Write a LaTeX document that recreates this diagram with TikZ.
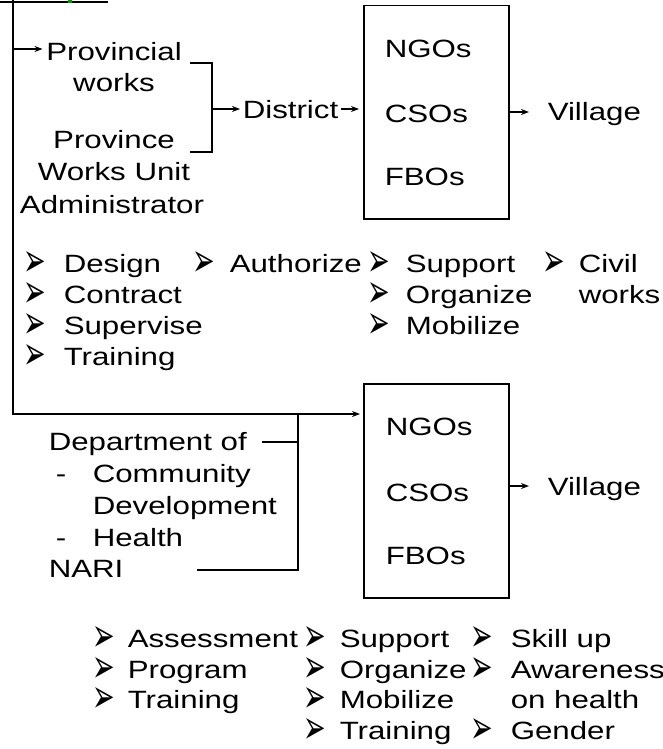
\documentclass[tikz,border=0pt]{standalone}
\usepackage{fontspec}
\usepackage{graphicx}
\setmainfont{Liberation Sans}[FakeStretch=1.25]
\newfontfamily\dejavu{DejaVu Sans}
\usetikzlibrary{arrows.meta}
\newcommand\bulglyph{\scalebox{0.75}[1.3]{\dejavu\fontsize{36}{36}\selectfont ➢}}
\newcommand\bitem[5]{%
  \node[bul] (#1b) at (#2,#4) {\bulglyph};
  \node[txt] (#1) at (#3,#4) {#5};}
\begin{document}
\begin{tikzpicture}[x=1pt,y=-1pt, line width=1.5pt,
  txt/.style={inner sep=0pt, anchor=base west, font=\fontsize{25}{30}\selectfont},
  ctxt/.style={inner sep=0pt, anchor=base, font=\fontsize{25}{30}\selectfont},
  bul/.style={inner sep=0pt, anchor=base west, yshift=-4pt},
  box/.style={draw, anchor=north west, inner sep=0pt},
  arr/.style={-{Stealth[length=8pt,width=6pt]}, line width=1.3pt}]
\useasboundingbox (0,0) rectangle (663,749);

% top-left lines
\coordinate (t0) at (0,2);
\coordinate (t1) at (108,2);
\coordinate (v0) at (13,0);
\coordinate (v1) at (13,414);
\draw (t0) -- (t1);
\fill[green!60!black] (68,0) rectangle (72,3);

% provincial group
\node[ctxt] (prov) at (114,61) {Provincial};
\node[ctxt] (works) at (114,92) {works};
\node[ctxt] (province) at (114,148) {Province};
\node[ctxt] (wu) at (114,180) {Works Unit};
\node[ctxt] (admin) at (112,213) {Administrator};
\coordinate (pa) at (13,49);
\draw[arr] (pa) -- ([xshift=-3pt]pa -| prov.west);

% bracket
\coordinate (br1) at (190,63);
\coordinate (br2) at (212,63);
\coordinate (br3) at (212,152);
\coordinate (br4) at (190,152);
\coordinate (brm) at (212,109);
\draw (br1) -- (br2) -- (br3) -- (br4);

\node[txt] (district) at (242,118) {District};
\draw[arr] (brm) -- ([xshift=-2pt]brm -| district.west);

% box 1
\node[box, minimum width=145pt, minimum height=213pt] (box1) at (363,5) {};
\node[txt] (ngo1) at (384,58) {NGOs};
\node[txt] (cso1) at (384,122) {CSOs};
\node[txt] (fbo1) at (384,185) {FBOs};
\draw[arr] ([xshift=2pt]brm -| district.east) -- ([xshift=-4pt]brm -| box1.west);
\node[txt] (vil1) at (547,121) {Village};
\coordinate (va1) at (508,112);
\draw[arr] (va1) -- ([xshift=-18pt]va1 -| vil1.west);

% top bullet lists
\bitem{design}{23}{63}{272}{Design}
\bitem{contract}{23}{63}{303}{Contract}
\bitem{supervise}{23}{63}{334}{Supervise}
\bitem{training1}{23}{63}{365}{Training}
\bitem{authorize}{192}{229}{272}{Authorize}
\bitem{support1}{367}{405}{272}{Support}
\bitem{organize1}{367}{405}{303}{Organize}
\bitem{mobilize1}{367}{405}{334}{Mobilize}
\bitem{civil}{542}{578}{272}{Civil}
\node[txt] (civilworks) at (578,303) {works};

% long line and arrow to box 2
\node[box, minimum width=145pt, minimum height=214pt] (box2) at (363,383) {};
\draw[arr] (v0) -- (v1) -- ([xshift=-3pt]v1 -| box2.west);

% department group
\node[txt] (dept) at (48,450) {Department of};
\node[txt] (dash1) at (55,482) {-};
\node[txt] (community) at (92,482) {Community};
\node[txt] (development) at (92,514) {Development};
\node[txt] (dash2) at (55,546) {-};
\node[txt] (health) at (92,546) {Health};
\node[txt] (nari) at (48,577) {NARI};
\coordinate (d1) at (262,442);
\coordinate (d2) at (298,442);
\coordinate (n1) at (197,570);
\coordinate (n2) at (298,570);
\coordinate (vt) at (298,414);
\draw (d1) -- (d2);
\draw (n1) -- (n2) -- (vt);

% box 2 contents
\node[txt] (ngo2) at (385,435) {NGOs};
\node[txt] (cso2) at (385,501) {CSOs};
\node[txt] (fbo2) at (385,564) {FBOs};
\node[txt] (vil2) at (547,495) {Village};
\coordinate (va2) at (508,486);
\draw[arr] (va2) -- ([xshift=-18pt]va2 -| vil2.west);

% bottom bullet lists
\bitem{assessment}{92}{127}{647}{Assessment}
\bitem{program}{92}{127}{678}{Program}
\bitem{training2}{92}{127}{708}{Training}
\bitem{support2}{303}{339}{647}{Support}
\bitem{organize2}{303}{339}{678}{Organize}
\bitem{mobilize2}{303}{339}{708}{Mobilize}
\bitem{training3}{303}{339}{739}{Training}
\bitem{skill}{470}{510}{647}{Skill up}
\bitem{awareness}{470}{510}{678}{Awareness}
\node[txt] (onhealth) at (510,708) {on health};
\bitem{gender}{470}{510}{739}{Gender}
\end{tikzpicture}
\end{document}
